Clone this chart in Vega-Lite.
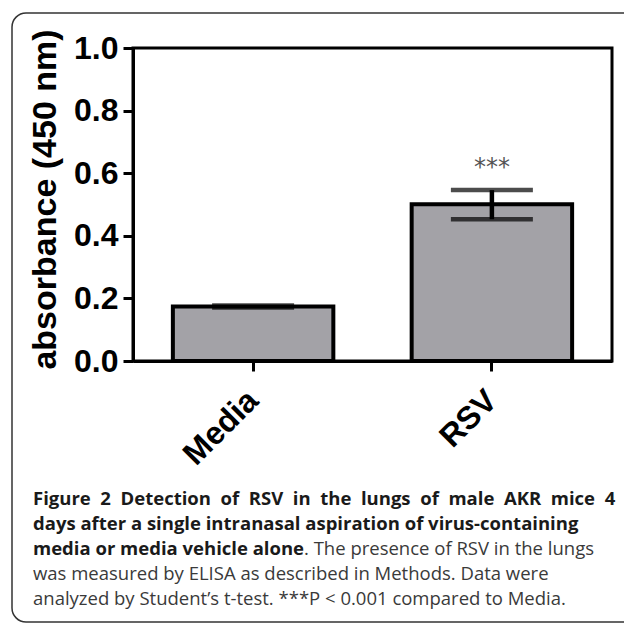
{
  "$schema": "https://vega.github.io/schema/vega-lite/v6.json",
  "autosize": {"type": "none"},
  "width": 479,
  "height": 313,
  "padding": {"left": 133, "top": 48, "right": 12, "bottom": 262},
  "background": "white",
  "config": {
    "view": {"stroke": "black", "strokeWidth": 3},
    "axis": {
      "domainColor": "black", "domainWidth": 3,
      "tickColor": "black", "tickWidth": 3, "tickSize": 10,
      "labelFont": "Liberation Sans", "labelFontWeight": "bold", "labelFontSize": 32, "labelColor": "black",
      "titleFont": "Liberation Sans", "titleFontWeight": "bold", "titleFontSize": 34, "titleColor": "black",
      "grid": false
    }
  },
  "layer": [
    {
      "data": {"values": [
        {"group": "Media", "mean": 0.174, "lo": 0.171, "hi": 0.177, "sig": ""},
        {"group": "RSV", "mean": 0.501, "lo": 0.453, "hi": 0.546, "sig": "***"}
      ]},
      "encoding": {
        "x": {"field": "group", "type": "nominal", "sort": ["Media", "RSV"],
          "scale": {"paddingInner": 0.328, "paddingOuter": 0.167},
          "axis": {"title": null, "labelAngle": -45, "labelAlign": "right", "labelBaseline": "middle", "labelPadding": 24, "labelDx": 2}}
      },
      "layer": [
        {
          "mark": {"type": "bar", "fill": "#a3a2a7", "stroke": "black", "strokeWidth": 4},
          "encoding": {
            "y": {"field": "mean", "type": "quantitative", "scale": {"domain": [0, 1], "nice": false},
              "axis": {"title": "absorbance (450 nm)", "values": [0, 0.2, 0.4, 0.6, 0.8, 1.0], "format": ".1f", "labelPadding": 5, "titlePadding": 11, "titleY": 151}}
          }
        },
        {
          "mark": {"type": "rule", "color": "black", "strokeWidth": 4.5},
          "encoding": {"y": {"field": "lo", "type": "quantitative"}, "y2": {"field": "hi"}}
        },
        {
          "mark": {"type": "tick", "color": "black", "thickness": 4.5, "size": 82, "orient": "horizontal"},
          "encoding": {"y": {"field": "lo", "type": "quantitative"}}
        },
        {
          "mark": {"type": "tick", "color": "black", "thickness": 4.5, "size": 82, "orient": "horizontal"},
          "encoding": {"y": {"field": "hi", "type": "quantitative"}}
        },
        {
          "mark": {"type": "text", "font": "DejaVu Sans", "fontSize": 24, "color": "#555555", "baseline": "middle", "dy": -22},
          "encoding": {"y": {"field": "hi", "type": "quantitative"}, "text": {"field": "sig"}}
        }
      ]
    },
    {
      "data": {"values": [{"caption": ["Figure \u00a02 \u00a0Detection \u00a0of \u00a0RSV \u00a0in \u00a0the \u00a0lungs \u00a0of \u00a0male \u00a0AKR \u00a0mice \u00a04", "days after a single intranasal aspiration of virus-containing", "media or media vehicle alone"]}]},
      "mark": {"type": "text", "font": "Open Sans", "fontSize": 18.5, "fontWeight": "bold", "color": "#1a1a1a", "align": "left", "baseline": "alphabetic", "lineHeight": 25, "x": -100, "y": 457},
      "encoding": {"text": {"field": "caption"}}
    },
    {
      "data": {"values": [{"caption": ". The presence of RSV in the lungs"}]},
      "mark": {"type": "text", "font": "Open Sans", "fontSize": 18.5, "color": "#3a3a3a", "align": "left", "baseline": "alphabetic", "x": 171, "y": 507},
      "encoding": {"text": {"field": "caption"}}
    },
    {
      "data": {"values": [{"caption": ["was measured by ELISA as described in Methods. Data were", "analyzed by Student’s t-test. ***P < 0.001 compared to Media."]}]},
      "mark": {"type": "text", "font": "Open Sans", "fontSize": 18.5, "color": "#3a3a3a", "align": "left", "baseline": "alphabetic", "lineHeight": 25, "x": -100, "y": 532},
      "encoding": {"text": {"field": "caption"}}
    },
    {
      "data": {"values": [{"frame": "outer"}]},
      "mark": {"type": "rect", "fill": null, "stroke": "#333333", "strokeWidth": 1.5, "cornerRadius": 14, "x": -121, "y": -35, "x2": 515, "y2": 574},
      "encoding": {}
    }
  ]
}
